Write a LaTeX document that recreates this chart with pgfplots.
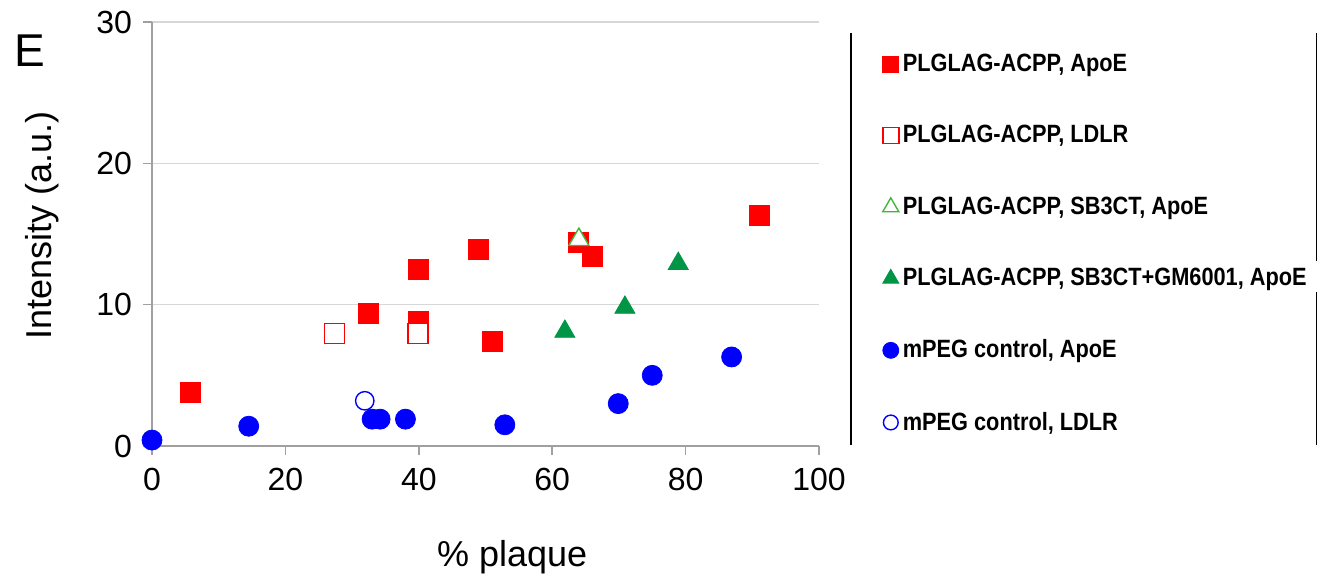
\documentclass[border=0pt]{standalone}
\usepackage{pgfplots}
\pgfplotsset{compat=1.18}
\usepackage{fontspec}
\setmainfont{Liberation Sans}
\newfontfamily\legfont[FakeStretch=0.87]{Liberation Sans}
\definecolor{plred}{RGB}{255,0,0}
\definecolor{plgreen}{RGB}{0,150,70}
\definecolor{plgreenlt}{RGB}{60,185,60}
\definecolor{plblue}{RGB}{0,0,255}
\definecolor{axgrey}{RGB}{160,160,160}
\definecolor{gridgrey}{RGB}{215,215,215}
\begin{document}
\begin{tikzpicture}
\begin{axis}[
    name=ax,
    scale only axis,
    width=333.5pt, height=212pt,
    xmin=0, xmax=100, ymin=0, ymax=30,
    xtick={0,20,40,60,80,100},
    ytick={0,10,20,30},
    axis lines=left,
    axis line style={-, axgrey, line width=0.8pt},
    tick style={axgrey, line width=0.8pt},
    tick align=outside,
    major tick length=4.5pt,
    ymajorgrids=true,
    grid style={gridgrey, line width=0.6pt},
    clip=false,
    /pgf/number format/assume math mode=true,
    tick label style={font=\fontsize{16}{19}\selectfont},
    xticklabel style={yshift=-3pt},
    yticklabel style={xshift=-2pt},
    label style={font=\fontsize{18}{21}\selectfont},
    xlabel={\% plaque},
    xlabel style={at={(axis description cs:0.540,-0.262)}, anchor=center},
    ylabel={Intensity (a.u.)},
    ylabel style={at={(axis description cs:-0.165,0.521)}, anchor=center},
    legend cell align=left,
    legend style={at={(axis description cs:1.095,0.935)}, anchor=north west,
        draw=none, fill=none, inner sep=0pt,
        font=\legfont\bfseries\fontsize{12.5}{14}\selectfont,
        row sep=21.5pt,
        nodes={inner xsep=2pt}},
    legend image post style={scale=0.8},
]
% PLGLAG-ACPP, ApoE
\addplot[only marks, mark=square*, mark size=5pt, color=plred, mark options={fill=plred}] coordinates {
    (5.8,3.8) (32.4,9.4) (39.9,12.5) (39.9,8.8) (49.0,13.9)
    (51.0,7.4) (64.0,14.4) (66.0,13.4) (91.0,16.3)
};
\addlegendentry{PLGLAG-ACPP, ApoE}
% PLGLAG-ACPP, LDLR
\addplot[only marks, mark=square*, mark size=5pt, color=plred, mark options={fill=white, line width=0.7pt}] coordinates {
    (27.4,7.95) (39.9,7.95)
};
\addlegendentry{PLGLAG-ACPP, LDLR}
% PLGLAG-ACPP, SB3CT, ApoE
\addplot[only marks, mark=triangle*, mark size=5.8pt, color=plgreenlt, mark options={fill=white, line width=0.7pt}] coordinates {
    (64.0,14.6)
};
\addlegendentry{PLGLAG-ACPP, SB3CT, ApoE}
% PLGLAG-ACPP, SB3CT+GM6001, ApoE
\addplot[only marks, mark=triangle*, mark size=5.8pt, color=plgreen, mark options={fill=plgreen}] coordinates {
    (61.9,8.1) (70.9,9.8) (78.9,12.9)
};
\addlegendentry{PLGLAG-ACPP, SB3CT+GM6001, ApoE}
% mPEG control, ApoE
\addplot[only marks, mark=*, mark size=5pt, color=plblue, mark options={fill=plblue}] coordinates {
    (0,0.42) (14.5,1.4) (33.0,1.9) (34.2,1.9) (38.0,1.9)
    (52.9,1.5) (69.9,3.0) (75.0,5.0) (86.9,6.3)
};
\addlegendentry{mPEG control, ApoE}
% mPEG control, LDLR
\addplot[only marks, mark=*, mark size=4.6pt, color=plblue, mark options={fill=white, line width=0.7pt}] coordinates {
    (31.9,3.2)
};
\addlegendentry{mPEG control, LDLR}

% legend frame sides
\draw[black, line width=0.7pt] (axis description cs:1.048,0.974) -- (axis description cs:1.048,0.002);
\draw[black, line width=0.7pt] (axis description cs:1.746,0.974) -- (axis description cs:1.746,0.437);
\draw[black, line width=0.7pt] (axis description cs:1.746,0.363) -- (axis description cs:1.746,0.002);
% panel letter
\node[font=\fontsize{23}{27}\selectfont] at (axis description cs:-0.183,0.932) {E};
\end{axis}
\pgfresetboundingbox
\path ([shift={(-76pt,-67pt)}]ax.south west) rectangle ([shift={(249.5pt,11pt)}]ax.north east);
\end{tikzpicture}
\end{document}
